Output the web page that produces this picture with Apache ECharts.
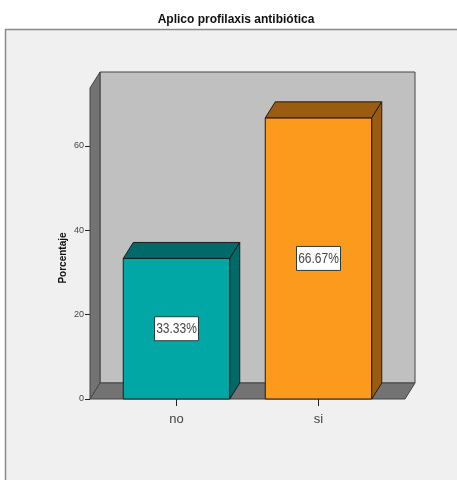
<!DOCTYPE html>
<html><head><meta charset="utf-8">
<style>html,body{margin:0;padding:0;background:#fff}#c{width:457px;height:480px}</style>
<script src="https://cdn.jsdelivr.net/npm/echarts@6/dist/echarts.min.js"></script>
</head><body><div id="c"></div>
<script>
const titleText = 'Aplico profilaxis antibiótica';
const yName = 'Porcentaje';
const categories = ['no', 'si'];
const percentages = [33.33, 66.67];
const barLabels = ['33.33%', '66.67%'];
const yTicks = [0, 20, 40, 60];
const frontColors = ['#00a7a4', '#fc9a1d'];
const darkColors = ['#006a68', '#9a5c10'];
const yMax = 73.75;
const depthX = 10, depthY = 16, sidePad = 15.5;
const SANS = '"Liberation Sans",sans-serif';
const poly = (points, fill, stroke) => ({type:'polygon', shape:{points}, style:{fill, stroke, lineWidth:1}});
const chart = echarts.init(document.getElementById('c'), null, {renderer:'canvas'});
chart.setOption({
  animation:false,
  backgroundColor:'#fff',
  title:{text:titleText,left:231,top:9,textAlign:'center',textStyle:{fontFamily:SANS,fontSize:12,fontWeight:'bold',color:'#111'}},
  graphic:[{type:'rect',z:-10,shape:{x:5.5,y:29.5,width:460,height:460},style:{fill:'#f0f0f0',stroke:'#8a8a8a',lineWidth:1.5}}],
  grid:{left:105.5,right:67.5,top:88,bottom:81},
  xAxis:{type:'category',data:categories,z:5,
    axisLine:{show:false},
    axisTick:{show:true,alignWithLabel:true,length:7,lineStyle:{color:'#222'}},
    axisLabel:{margin:14,fontFamily:SANS,fontSize:13,color:'#444'}},
  yAxis:{type:'value',min:0,max:yMax,offset:sidePad,
    name:yName,nameLocation:'middle',nameGap:22,nameRotate:90,nameMoveOverlap:false,
    nameTextStyle:{fontFamily:SANS,fontSize:10,fontWeight:'bold',color:'#111',padding:[0,0,0,-29]},
    axisLine:{show:false},splitLine:{show:false},
    axisTick:{show:true,length:5,lineStyle:{color:'#222'},customValues:yTicks},
    axisLabel:{margin:6,fontFamily:SANS,fontSize:9,color:'#444',padding:[2,0,0,0],customValues:yTicks}},
  series:[
    {type:'custom',clip:false,silent:true,data:[[0,0]],z:1,
     renderItem(params,api){
       const g=params.coordSys;
       const fl=g.x-sidePad, fr=g.x+g.width+sidePad, t=g.y, b=g.y+g.height;
       const e='#454545';
       return {type:'group',children:[
         poly([[fl+depthX,t-depthY],[fr+depthX,t-depthY],[fr+depthX,b-depthY],[fl+depthX,b-depthY]],'#c0c0c0',e),
         poly([[fl,t],[fl+depthX,t-depthY],[fl+depthX,b-depthY],[fl,b]],'#737373',e),
         poly([[fl,b],[fl+depthX,b-depthY],[fr+depthX,b-depthY],[fr,b]],'#737373',e)
       ]};
     }},
    {type:'custom',clip:false,silent:true,z:2,
     data:percentages.map((v,i)=>[i,v]),
     encode:{x:0,y:1},
     renderItem(params,api){
       const i=api.value(0), v=api.value(1);
       const top=api.coord([i,v]), base=api.coord([i,0]), mid=api.coord([i,v/2]);
       const w=api.size([1,0])[0]*0.75;
       const l=top[0]-w/2, r=top[0]+w/2;
       const e='#1c1c1c';
       return {type:'group',children:[
         poly([[l,base[1]],[r,base[1]],[r,top[1]],[l,top[1]]],frontColors[i],e),
         poly([[l,top[1]],[l+depthX,top[1]-depthY],[r+depthX,top[1]-depthY],[r,top[1]]],darkColors[i],e),
         poly([[r,top[1]],[r+depthX,top[1]-depthY],[r+depthX,base[1]-depthY],[r,base[1]]],darkColors[i],e),
         {type:'rect',shape:{x:mid[0]-22,y:mid[1]-12,width:44,height:24},style:{fill:'#fff',stroke:'#26403f',lineWidth:1}},
         {type:'text',x:mid[0],y:mid[1],scaleX:0.8,style:{x:0,y:0,text:barLabels[i],align:'center',verticalAlign:'middle',font:'15px '+SANS,fill:'#444'}}
       ]};
     }}
  ]
});
</script></body></html>
